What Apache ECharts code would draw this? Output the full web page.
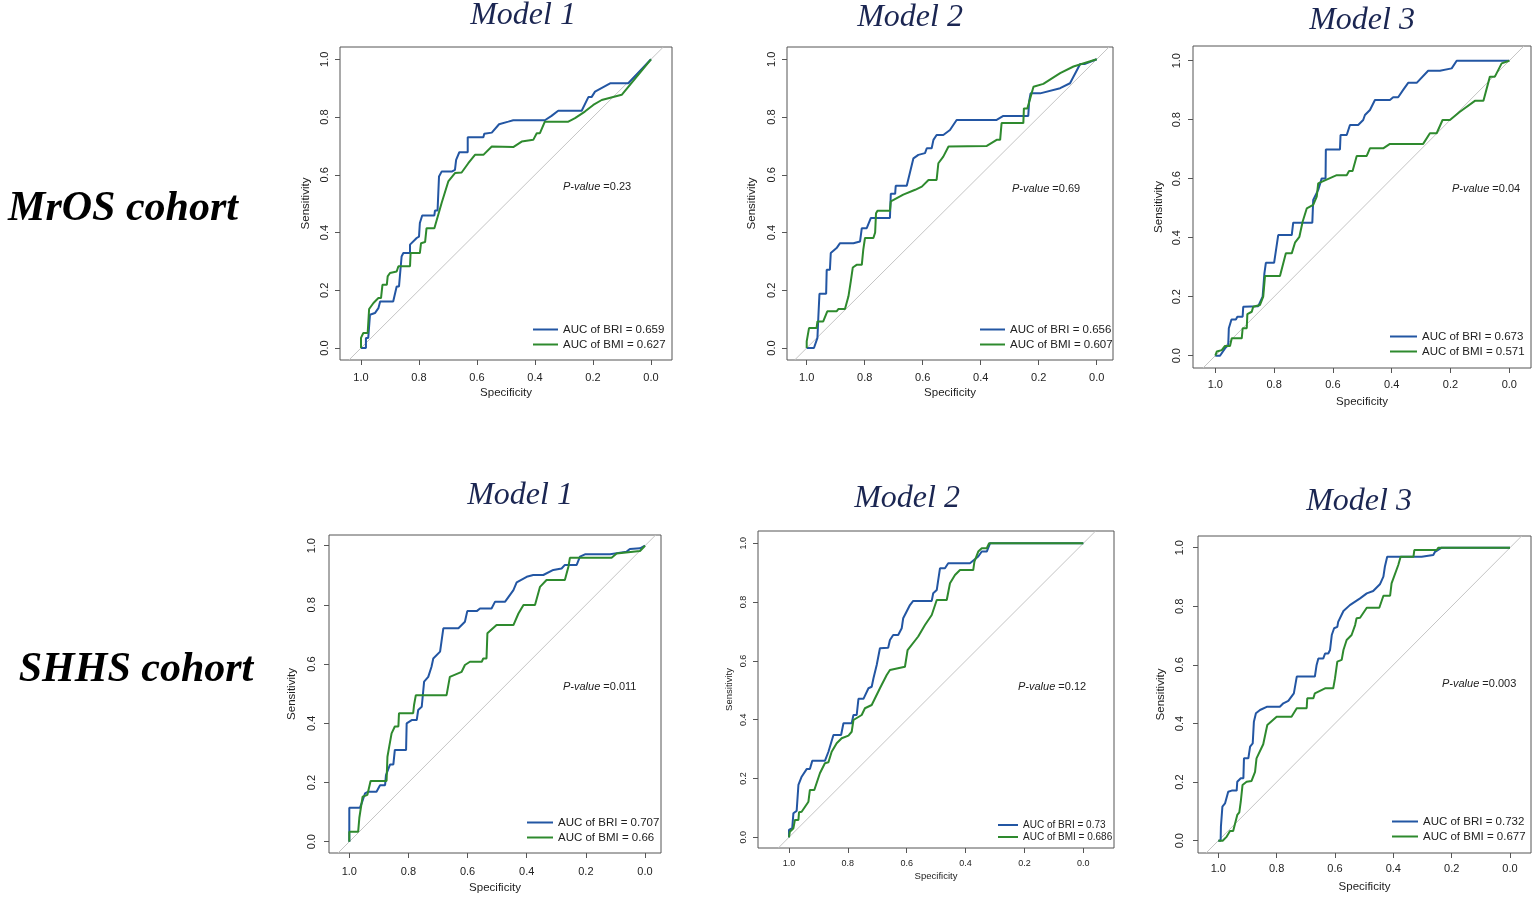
<!DOCTYPE html>
<html><head><meta charset="utf-8">
<script src="https://cdn.jsdelivr.net/npm/echarts@6/dist/echarts.min.js"></script>
<style>html,body{margin:0;padding:0;background:#fff}#c{width:1535px;height:900px}</style>
</head><body><div id="c"></div>
<script>
// ---------------- DATA ----------------
const cohortLabels = ['MrOS cohort', 'SHHS cohort'];
const modelTitles = ['Model 1', 'Model 2', 'Model 3'];
const aucBRI = [0.659, 0.656, 0.673, 0.707, 0.73, 0.732];
const aucBMI = [0.627, 0.607, 0.571, 0.66, 0.686, 0.677];
const pValues = ['0.23', '0.69', '0.04', '0.011', '0.12', '0.003'];
const tickValues = [0, 0.2, 0.4, 0.6, 0.8, 1.0];
const xAxisName = 'Specificity';
const yAxisName = 'Sensitivity';

// ROC curves: [specificity, sensitivity]
const mrosM1BRI = [[1,0],[0.983,0],[0.983,0.035],[0.975,0.035],[0.969,0.115],[0.952,0.121],[0.94,0.138],[0.934,0.161],[0.889,0.161],[0.877,0.213],[0.869,0.213],[0.86,0.317],[0.854,0.329],[0.831,0.329],[0.831,0.358],[0.808,0.381],[0.8,0.386],[0.797,0.433],[0.789,0.459],[0.747,0.459],[0.745,0.476],[0.736,0.476],[0.731,0.594],[0.722,0.611],[0.687,0.611],[0.676,0.617],[0.672,0.652],[0.661,0.678],[0.632,0.678],[0.632,0.73],[0.578,0.73],[0.575,0.742],[0.549,0.746],[0.524,0.775],[0.492,0.784],[0.475,0.789],[0.366,0.789],[0.343,0.804],[0.32,0.822],[0.239,0.822],[0.216,0.869],[0.205,0.869],[0.193,0.888],[0.141,0.917],[0.078,0.917],[0,1]];
const mrosM1BMI = [[1,0],[1,0.035],[0.992,0.052],[0.977,0.052],[0.972,0.135],[0.957,0.156],[0.94,0.173],[0.931,0.173],[0.926,0.219],[0.911,0.219],[0.908,0.248],[0.9,0.26],[0.877,0.265],[0.871,0.283],[0.831,0.283],[0.829,0.329],[0.797,0.329],[0.793,0.363],[0.779,0.367],[0.774,0.415],[0.747,0.415],[0.722,0.502],[0.699,0.577],[0.676,0.606],[0.653,0.608],[0.63,0.64],[0.607,0.669],[0.578,0.669],[0.549,0.698],[0.475,0.696],[0.446,0.715],[0.406,0.721],[0.394,0.744],[0.383,0.744],[0.366,0.784],[0.285,0.784],[0.262,0.796],[0.228,0.819],[0.199,0.842],[0.17,0.859],[0.101,0.877],[0,1]];
const mrosM2BRI = [[1,0],[0.975,0],[0.963,0.035],[0.96,0.104],[0.956,0.188],[0.933,0.188],[0.931,0.271],[0.92,0.271],[0.917,0.329],[0.897,0.346],[0.885,0.363],[0.839,0.363],[0.816,0.369],[0.81,0.415],[0.793,0.415],[0.779,0.45],[0.713,0.45],[0.71,0.534],[0.695,0.534],[0.693,0.562],[0.655,0.562],[0.632,0.657],[0.615,0.669],[0.592,0.675],[0.586,0.692],[0.569,0.692],[0.563,0.721],[0.552,0.738],[0.529,0.738],[0.506,0.755],[0.483,0.79],[0.345,0.79],[0.322,0.804],[0.236,0.804],[0.233,0.854],[0.228,0.882],[0.195,0.882],[0.126,0.9],[0.092,0.917],[0.057,0.984],[0.04,0.984],[0,1]];
const mrosM2BMI = [[1,0],[1,0.023],[0.992,0.069],[0.966,0.069],[0.963,0.092],[0.943,0.092],[0.929,0.127],[0.897,0.127],[0.891,0.135],[0.868,0.135],[0.856,0.179],[0.848,0.231],[0.841,0.279],[0.828,0.288],[0.81,0.288],[0.805,0.34],[0.799,0.381],[0.77,0.381],[0.764,0.4],[0.761,0.467],[0.756,0.475],[0.713,0.475],[0.71,0.508],[0.667,0.531],[0.626,0.548],[0.603,0.559],[0.58,0.582],[0.552,0.582],[0.546,0.64],[0.529,0.663],[0.511,0.698],[0.379,0.7],[0.345,0.721],[0.333,0.721],[0.328,0.779],[0.253,0.779],[0.251,0.83],[0.239,0.83],[0.218,0.905],[0.184,0.915],[0.126,0.952],[0.08,0.975],[0,1]];
const mrosM3BRI = [[1,0],[0.984,0],[0.967,0.025],[0.956,0.036],[0.954,0.093],[0.945,0.123],[0.93,0.123],[0.925,0.132],[0.907,0.132],[0.905,0.166],[0.854,0.168],[0.839,0.2],[0.833,0.279],[0.828,0.315],[0.8,0.315],[0.786,0.409],[0.74,0.409],[0.735,0.451],[0.67,0.451],[0.667,0.528],[0.65,0.562],[0.638,0.601],[0.625,0.601],[0.624,0.699],[0.576,0.699],[0.574,0.748],[0.553,0.748],[0.542,0.782],[0.514,0.782],[0.497,0.799],[0.491,0.816],[0.474,0.833],[0.457,0.867],[0.406,0.867],[0.395,0.876],[0.378,0.876],[0.361,0.901],[0.344,0.925],[0.315,0.925],[0.276,0.966],[0.236,0.966],[0.196,0.974],[0.179,1],[0,1]];
const mrosM3BMI = [[1,0],[0.995,0.014],[0.978,0.019],[0.967,0.033],[0.95,0.033],[0.944,0.059],[0.91,0.059],[0.907,0.093],[0.893,0.093],[0.891,0.141],[0.876,0.149],[0.871,0.166],[0.848,0.172],[0.837,0.2],[0.831,0.27],[0.78,0.27],[0.76,0.347],[0.74,0.347],[0.729,0.383],[0.714,0.403],[0.703,0.454],[0.689,0.499],[0.667,0.511],[0.655,0.539],[0.65,0.584],[0.587,0.612],[0.553,0.612],[0.545,0.626],[0.533,0.626],[0.519,0.677],[0.485,0.677],[0.474,0.703],[0.429,0.703],[0.406,0.718],[0.293,0.718],[0.27,0.754],[0.247,0.754],[0.227,0.799],[0.202,0.799],[0.168,0.827],[0.117,0.864],[0.088,0.864],[0.066,0.946],[0.049,0.946],[0.026,0.991],[0,1]];
const shhsM1BRI = [[1,0],[1,0.115],[0.964,0.115],[0.958,0.13],[0.947,0.163],[0.936,0.169],[0.908,0.169],[0.896,0.191],[0.879,0.191],[0.876,0.225],[0.862,0.261],[0.851,0.261],[0.846,0.31],[0.808,0.31],[0.806,0.4],[0.789,0.411],[0.772,0.411],[0.767,0.445],[0.755,0.456],[0.747,0.541],[0.733,0.557],[0.722,0.591],[0.716,0.619],[0.693,0.642],[0.682,0.721],[0.631,0.721],[0.609,0.743],[0.601,0.779],[0.569,0.779],[0.558,0.788],[0.519,0.788],[0.507,0.811],[0.473,0.811],[0.445,0.85],[0.434,0.876],[0.4,0.895],[0.378,0.901],[0.344,0.901],[0.31,0.918],[0.282,0.923],[0.271,0.935],[0.231,0.935],[0.22,0.963],[0.203,0.971],[0.118,0.971],[0.062,0.98],[0.051,0.989],[0.017,0.991],[0,1]];
const shhsM1BMI = [[1,0],[1,0.034],[0.97,0.034],[0.966,0.081],[0.961,0.081],[0.955,0.152],[0.939,0.158],[0.928,0.205],[0.874,0.205],[0.871,0.287],[0.865,0.321],[0.857,0.366],[0.846,0.389],[0.834,0.389],[0.832,0.434],[0.784,0.434],[0.781,0.462],[0.775,0.495],[0.671,0.495],[0.66,0.557],[0.62,0.574],[0.609,0.597],[0.592,0.608],[0.552,0.608],[0.547,0.619],[0.536,0.619],[0.533,0.704],[0.502,0.732],[0.445,0.732],[0.428,0.771],[0.411,0.8],[0.372,0.8],[0.355,0.861],[0.333,0.884],[0.271,0.884],[0.259,0.929],[0.254,0.959],[0.113,0.959],[0.096,0.974],[0.017,0.982],[0,1]];
const shhsM2BRI = [[1,0],[1,0.025],[0.989,0.031],[0.985,0.082],[0.974,0.09],[0.968,0.178],[0.957,0.206],[0.94,0.232],[0.929,0.232],[0.921,0.26],[0.878,0.26],[0.866,0.291],[0.849,0.348],[0.823,0.348],[0.815,0.388],[0.787,0.388],[0.781,0.416],[0.77,0.416],[0.764,0.471],[0.747,0.471],[0.73,0.507],[0.719,0.512],[0.713,0.541],[0.702,0.586],[0.691,0.643],[0.663,0.645],[0.657,0.671],[0.646,0.688],[0.629,0.688],[0.617,0.711],[0.612,0.745],[0.589,0.79],[0.578,0.804],[0.515,0.804],[0.51,0.83],[0.498,0.841],[0.493,0.875],[0.487,0.915],[0.47,0.915],[0.459,0.932],[0.385,0.932],[0.357,0.955],[0.345,0.972],[0.328,0.972],[0.317,1],[0,1]];
const shhsM2BMI = [[1,0],[0.997,0.019],[0.985,0.031],[0.98,0.059],[0.968,0.059],[0.966,0.085],[0.957,0.087],[0.934,0.121],[0.929,0.161],[0.914,0.161],[0.895,0.218],[0.878,0.252],[0.866,0.255],[0.855,0.291],[0.838,0.32],[0.821,0.337],[0.798,0.346],[0.787,0.359],[0.781,0.399],[0.753,0.416],[0.742,0.439],[0.719,0.45],[0.691,0.507],[0.668,0.552],[0.657,0.569],[0.606,0.58],[0.597,0.637],[0.561,0.683],[0.538,0.722],[0.515,0.756],[0.498,0.807],[0.464,0.807],[0.453,0.864],[0.436,0.892],[0.419,0.909],[0.374,0.909],[0.37,0.938],[0.357,0.972],[0.345,0.983],[0.328,0.983],[0.32,1],[0,1]];
const shhsM3BRI = [[1,0],[0.992,0],[0.991,0.048],[0.986,0.116],[0.977,0.127],[0.971,0.127],[0.966,0.167],[0.954,0.171],[0.937,0.171],[0.935,0.201],[0.923,0.213],[0.914,0.213],[0.912,0.281],[0.897,0.281],[0.891,0.321],[0.882,0.332],[0.878,0.406],[0.871,0.435],[0.857,0.446],[0.834,0.457],[0.789,0.457],[0.777,0.469],[0.76,0.477],[0.741,0.503],[0.731,0.56],[0.669,0.56],[0.663,0.6],[0.657,0.622],[0.64,0.622],[0.634,0.639],[0.623,0.639],[0.617,0.651],[0.611,0.702],[0.603,0.725],[0.592,0.73],[0.589,0.747],[0.571,0.784],[0.549,0.804],[0.514,0.827],[0.491,0.844],[0.469,0.852],[0.446,0.875],[0.434,0.901],[0.429,0.935],[0.421,0.969],[0.303,0.969],[0.263,0.975],[0.257,0.986],[0.234,1],[0,1]];
const shhsM3BMI = [[1,0],[0.985,0],[0.971,0.014],[0.96,0.033],[0.949,0.033],[0.935,0.088],[0.928,0.097],[0.923,0.133],[0.917,0.19],[0.903,0.201],[0.886,0.204],[0.874,0.235],[0.869,0.281],[0.846,0.329],[0.837,0.372],[0.832,0.395],[0.8,0.423],[0.749,0.423],[0.731,0.452],[0.697,0.452],[0.695,0.486],[0.674,0.486],[0.669,0.503],[0.634,0.52],[0.606,0.52],[0.6,0.554],[0.592,0.611],[0.577,0.617],[0.571,0.651],[0.56,0.685],[0.543,0.702],[0.531,0.736],[0.526,0.759],[0.514,0.761],[0.491,0.795],[0.448,0.795],[0.434,0.836],[0.411,0.836],[0.406,0.878],[0.383,0.941],[0.375,0.969],[0.331,0.969],[0.328,0.992],[0.251,0.992],[0.246,1],[0,1]];

const briCurves = [mrosM1BRI, mrosM2BRI, mrosM3BRI, shhsM1BRI, shhsM2BRI, shhsM3BRI];
const bmiCurves = [mrosM1BMI, mrosM2BMI, mrosM3BMI, shhsM1BMI, shhsM2BMI, shhsM3BMI];

// ---------------- LAYOUT (pixels) ----------------
const panels = [
  {L:340,T:47,R:672,B:360,x1:361,x0:651,y1:59.3,y0:348, fs:11, nfs:11.5, lfs:11.5, xm:12, xg:27, ym:10, yg:28, lg:[533,322,25,15], pv:[563,187], title:[523,16]},
  {L:787,T:47,R:1113,B:360,x1:806.7,x0:1096.7,y1:59.3,y0:348, fs:11, nfs:11.5, lfs:11.5, xm:12, xg:27, ym:10, yg:29, lg:[980,322,25,15], pv:[1012,189], title:[910,18]},
  {L:1193,T:46,R:1531,B:368,x1:1215.3,x0:1509.3,y1:60.7,y0:355.7, fs:11, nfs:11.5, lfs:11.5, xm:11, xg:28, ym:11, yg:28, lg:[1390,329,27,15], pv:[1452,189], title:[1362,21]},
  {L:329,T:535,R:661,B:853,x1:349.3,x0:645,y1:545.7,y0:841.7, fs:11, nfs:11.5, lfs:11.5, xm:13, xg:29, ym:12, yg:31, lg:[527,815,26,15], pv:[563,687], title:[520,496]},
  {L:758,T:531,R:1114,B:848,x1:789,x0:1083.3,y1:543.3,y0:837.3, fs:9, nfs:9.5, lfs:10, xm:11, xg:23, ym:10, yg:24, lg:[998,819,20,12], pv:[1018,687], title:[907,499]},
  {L:1198,T:536,R:1531,B:853,x1:1218.3,x0:1510,y1:547.7,y0:840.7, fs:11, nfs:11.5, lfs:11.5, xm:10, xg:28, ym:13, yg:31, lg:[1392,814,26,15], pv:[1442,684], title:[1359,502]}
];
const cohortPos = [[123,209],[136,670]];

const BLUE = '#2356a3', GREEN = '#2e8a2e', AXIS = '#555', TXT = '#222';
const SANS = '"Liberation Sans", Arial, sans-serif';
const SERIF = '"Liberation Serif", "Times New Roman", serif';

const grids = [], xAxes = [], yAxes = [], series = [], legends = [], graphics = [];

panels.forEach((p, i) => {
  const sx = p.x0 - p.x1, sy = p.y0 - p.y1;
  const xmax = 1 + (p.x1 - p.L) / sx, xmin = -(p.R - p.x0) / sx;
  const ymax = 1 + (p.y1 - p.T) / sy, ymin = -(p.B - p.y0) / sy;
  grids.push({left:p.L, top:p.T, width:p.R - p.L, height:p.B - p.T, show:true, borderColor:AXIS, borderWidth:1, backgroundColor:'transparent', containLabel:false});
  xAxes.push({type:'value', gridIndex:i, min:xmin, max:xmax, inverse:true, position:'bottom',
    splitLine:{show:false}, axisLine:{show:false, onZero:false},
    axisTick:{show:true, customValues:tickValues, length:5, inside:false, lineStyle:{color:AXIS}},
    axisLabel:{customValues:tickValues, formatter:v => v.toFixed(1), fontSize:p.fs, color:TXT, margin:p.xm, fontFamily:SANS},
    name:xAxisName, nameLocation:'middle', nameGap:p.xg, nameTextStyle:{fontSize:p.nfs, color:TXT, fontFamily:SANS}});
  yAxes.push({type:'value', gridIndex:i, min:ymin, max:ymax, position:'left',
    splitLine:{show:false}, axisLine:{show:false, onZero:false},
    axisTick:{show:true, customValues:tickValues, length:5, inside:false, lineStyle:{color:AXIS}},
    axisLabel:{customValues:tickValues, formatter:v => v.toFixed(1), fontSize:p.fs, color:TXT, margin:p.ym, rotate:90, fontFamily:SANS},
    name:yAxisName, nameLocation:'middle', nameGap:p.yg, nameTextStyle:{fontSize:p.nfs, color:TXT, fontFamily:SANS}});
  // diagonal reference line
  series.push({type:'line', xAxisIndex:i, yAxisIndex:i, silent:true, symbol:'none', clip:true,
    data:[[1 - ymin, ymin], [1 - ymax, ymax]], lineStyle:{color:'#c4c4c4', width:1}, z:1});
  const nBRI = 'AUC of BRI = ' + aucBRI[i], nBMI = 'AUC of BMI = ' + aucBMI[i];
  series.push({type:'line', name:nBRI, xAxisIndex:i, yAxisIndex:i, symbol:'none', showSymbol:false, clip:true,
    data:briCurves[i], lineStyle:{color:BLUE, width:2}, itemStyle:{color:BLUE}, z:2});
  series.push({type:'line', name:nBMI, xAxisIndex:i, yAxisIndex:i, symbol:'none', showSymbol:false, clip:true,
    data:bmiCurves[i], lineStyle:{color:GREEN, width:2}, itemStyle:{color:GREEN}, z:3});
  legends.push({data:[nBRI, nBMI], orient:'vertical', left:p.lg[0], top:p.lg[1], itemWidth:p.lg[2], itemHeight:2,
    icon:'rect', itemGap:0, padding:0, selectedMode:false,
    textStyle:{fontSize:p.lfs, lineHeight:p.lg[3], color:TXT, fontFamily:SANS}});
  graphics.push({type:'text', x:p.pv[0], y:p.pv[1], style:{text:'{i|P-value} =' + pValues[i],
    rich:{i:{fontStyle:'italic', fontSize:11, fontFamily:SANS, fill:TXT}},
    fontSize:11, fontFamily:SANS, fill:TXT, align:'left', verticalAlign:'middle'}});
  graphics.push({type:'text', x:p.title[0], y:p.title[1], style:{text:modelTitles[i % 3],
    font:'italic 32px ' + SERIF, fill:'#1b2652', align:'center', verticalAlign:'middle'}});
});
cohortLabels.forEach((c, k) => {
  graphics.push({type:'text', x:cohortPos[k][0], y:cohortPos[k][1], style:{text:c,
    font:'italic bold 42px ' + SERIF, fill:'#000', align:'center', verticalAlign:'middle'}});
});

const chart = echarts.init(document.getElementById('c'), null, {renderer:'canvas'});
chart.setOption({animation:false, backgroundColor:'#fff', grid:grids, xAxis:xAxes, yAxis:yAxes,
  series:series, legend:legends, graphic:graphics});
</script></body></html>
